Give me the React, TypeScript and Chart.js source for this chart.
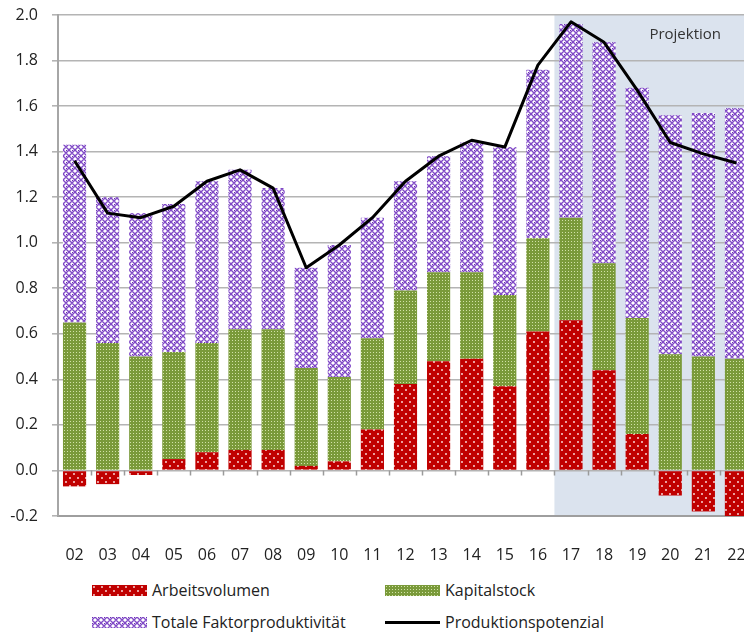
import React, { useEffect, useMemo, useRef } from 'react';
import { Chart, registerables } from 'chart.js';

Chart.register(...registerables);

const categories = ['02', '03', '04', '05', '06', '07', '08', '09', '10', '11', '12', '13', '14', '15', '16', '17', '18', '19', '20', '21', '22'];

const arbeitsvolumen = [-0.07, -0.06, -0.02, 0.05, 0.08, 0.09, 0.09, 0.02, 0.04, 0.18, 0.38, 0.48, 0.49, 0.37, 0.61, 0.66, 0.44, 0.16, -0.11, -0.18, -0.21];
const kapitalstock = [0.65, 0.56, 0.50, 0.47, 0.48, 0.53, 0.53, 0.43, 0.37, 0.40, 0.41, 0.39, 0.38, 0.40, 0.41, 0.45, 0.47, 0.51, 0.51, 0.50, 0.49];
const tfp = [0.78, 0.64, 0.63, 0.65, 0.71, 0.70, 0.62, 0.44, 0.58, 0.53, 0.48, 0.51, 0.57, 0.65, 0.74, 0.85, 0.97, 1.01, 1.05, 1.07, 1.10];
const produktionspotenzial = [1.36, 1.13, 1.11, 1.16, 1.27, 1.32, 1.24, 0.89, 0.99, 1.11, 1.27, 1.38, 1.45, 1.42, 1.78, 1.97, 1.88, 1.67, 1.44, 1.39, 1.35];

const seriesLabels = ['Arbeitsvolumen', 'Kapitalstock', 'Totale Faktorproduktivität', 'Produktionspotenzial'];
const projectionStart = '17';
const projectionLabel = 'Projektion';
const yMin = -0.2;
const yMax = 2.0;
const yStep = 0.2;

const FONT = '"Open Sans", sans-serif';
const TEXT = '#222222';
const GRID = '#b4b4b4';

function makeTile(w: number, h: number, draw: (ctx: CanvasRenderingContext2D) => void) {
  const c = document.createElement('canvas');
  c.width = w;
  c.height = h;
  const ctx = c.getContext('2d')!;
  draw(ctx);
  return c;
}

function redTile() {
  return makeTile(8, 8, (ctx) => {
    ctx.fillStyle = '#c00000';
    ctx.fillRect(0, 0, 8, 8);
    ctx.fillStyle = 'rgba(255,235,235,0.9)';
    ctx.beginPath();
    ctx.arc(2, 2, 1.0, 0, Math.PI * 2);
    ctx.arc(6, 6, 1.0, 0, Math.PI * 2);
    ctx.fill();
  });
}

function greenTile() {
  return makeTile(3, 3, (ctx) => {
    ctx.fillStyle = '#7a9a3a';
    ctx.fillRect(0, 0, 3, 3);
    ctx.fillStyle = '#d2e2a8';
    ctx.fillRect(1, 1, 1, 1);
  });
}

function purpleTile() {
  return makeTile(6, 6, (ctx) => {
    ctx.fillStyle = '#ffffff';
    ctx.fillRect(0, 0, 6, 6);
    ctx.strokeStyle = '#7f48c6';
    ctx.lineWidth = 1.4;
    ctx.beginPath();
    ctx.moveTo(0, 3);
    ctx.lineTo(3, 0);
    ctx.lineTo(6, 3);
    ctx.lineTo(3, 6);
    ctx.closePath();
    ctx.stroke();
    ctx.fillStyle = '#6a30b0';
    ctx.fillRect(0, 0, 1, 1);
  });
}

export default function App() {
  const canvasRef = useRef<HTMLCanvasElement>(null);

  const tiles = useMemo(() => {
    const r = redTile();
    const g = greenTile();
    const p = purpleTile();
    return { r, g, p, rUrl: r.toDataURL(), gUrl: g.toDataURL(), pUrl: p.toDataURL() };
  }, []);

  useEffect(() => {
    const canvas = canvasRef.current!;
    const ctx = canvas.getContext('2d')!;
    const redPattern = ctx.createPattern(tiles.r, 'repeat')!;
    const greenPattern = ctx.createPattern(tiles.g, 'repeat')!;
    const purplePattern = ctx.createPattern(tiles.p, 'repeat')!;

    const deco = {
      id: 'deco',
      beforeDraw(chart: any) {
        const { ctx: c, chartArea, scales } = chart;
        const x = scales.x;
        const i = categories.indexOf(projectionStart);
        const left = (x.getPixelForValue(i - 1) + x.getPixelForValue(i)) / 2;
        c.save();
        c.fillStyle = '#dbe3ee';
        c.fillRect(left, chartArea.top, chart.width - left, chartArea.bottom - chartArea.top);
        c.fillStyle = '#333333';
        c.font = `15px ${FONT}`;
        c.textAlign = 'right';
        c.textBaseline = 'middle';
        c.fillText(projectionLabel, chartArea.right - 32, chartArea.top + 20);
        c.restore();
      },
      beforeDatasetsDraw(chart: any) {
        const { ctx: c, scales } = chart;
        const x = scales.x;
        const y = scales.y;
        const step = x.getPixelForValue(1) - x.getPixelForValue(0);
        const y0 = y.getPixelForValue(0);
        c.save();
        c.strokeStyle = '#9a9a9a';
        c.lineWidth = 1.5;
        c.beginPath();
        for (let i = 1; i < categories.length; i++) {
          const bx = Math.round(x.getPixelForValue(i) - step / 2) + 0.5;
          c.moveTo(bx, y0);
          c.lineTo(bx, y0 + 5);
        }
        c.stroke();
        c.restore();
      },
    };

    const chart = new Chart(ctx, {
      type: 'bar',
      data: {
        labels: categories,
        datasets: [
          {
            type: 'line',
            label: seriesLabels[3],
            data: produktionspotenzial,
            borderColor: '#000000',
            borderWidth: 3,
            pointRadius: 0,
            tension: 0,
            borderJoinStyle: 'round',
            order: 0,
            stack: 'pot',
          } as any,
          {
            type: 'bar',
            label: seriesLabels[0],
            data: arbeitsvolumen,
            backgroundColor: redPattern,
            barPercentage: 0.7,
            categoryPercentage: 1,
            order: 1,
            stack: 'a',
          },
          {
            type: 'bar',
            label: seriesLabels[1],
            data: kapitalstock,
            backgroundColor: greenPattern,
            barPercentage: 0.7,
            categoryPercentage: 1,
            order: 1,
            stack: 'a',
          },
          {
            type: 'bar',
            label: seriesLabels[2],
            data: tfp,
            backgroundColor: purplePattern,
            barPercentage: 0.7,
            categoryPercentage: 1,
            order: 1,
            stack: 'a',
          },
        ],
      },
      options: {
        animation: false,
        responsive: false,
        devicePixelRatio: 1,
        layout: { padding: { top: 15, right: 0, bottom: 0, left: 0 } },
        plugins: {
          legend: { display: false },
          tooltip: { enabled: false },
        },
        scales: {
          x: {
            stacked: true,
            grid: { display: false, drawTicks: false },
            border: { display: true, color: '#9e9e9e', width: 2 },
            ticks: {
              color: TEXT,
              font: { family: FONT, size: 16 },
              padding: 30,
              autoSkip: false,
              maxRotation: 0,
            },
            afterFit: (s: any) => {
              s.height = 54;
              s.paddingLeft = 0;
              s.paddingRight = 0;
            },
          },
          y: {
            stacked: true,
            min: yMin,
            max: yMax,
            ticks: {
              stepSize: yStep,
              color: TEXT,
              font: { family: FONT, size: 16 },
              padding: 14,
              callback: (v: any) => Number(v).toFixed(1),
            },
            grid: { color: GRID, lineWidth: 1.6, tickLength: 6, drawTicks: true },
            border: { display: true, color: '#a6a6a6', width: 2 },
            afterFit: (s: any) => {
              s.width = 58;
              s.paddingTop = 0;
              s.paddingBottom = 0;
            },
          },
        },
      },
      plugins: [deco],
    });
    return () => chart.destroy();
  }, [tiles]);

  const legendItem = (left: number, top: number, swatch: React.ReactNode, label: string) => (
    <div
      style={{
        position: 'absolute',
        left,
        top,
        height: 22,
        display: 'flex',
        alignItems: 'center',
        fontFamily: FONT,
        fontSize: 16,
        color: TEXT,
        whiteSpace: 'nowrap',
      }}
    >
      {swatch}
      <span style={{ marginLeft: 5 }}>{label}</span>
    </div>
  );

  const patternSwatch = (url: string) => (
    <div style={{ width: 55, height: 11, backgroundImage: `url(${url})`, backgroundRepeat: 'repeat' }} />
  );
  const lineSwatch = (
    <div style={{ width: 55, height: 11, display: 'flex', alignItems: 'center' }}>
      <div style={{ width: 55, height: 3, background: '#000' }} />
    </div>
  );

  return (
    <div
      style={{
        position: 'absolute',
        left: 0,
        top: 0,
        width: 744,
        height: 633,
        overflow: 'hidden',
        background: '#ffffff',
      }}
    >
      <canvas ref={canvasRef} width={753} height={570} style={{ position: 'absolute', left: 0, top: 0 }} />
      {legendItem(92, 579, patternSwatch(tiles.rUrl), seriesLabels[0])}
      {legendItem(385, 579, patternSwatch(tiles.gUrl), seriesLabels[1])}
      {legendItem(92, 611, patternSwatch(tiles.pUrl), seriesLabels[2])}
      {legendItem(385, 611, lineSwatch, seriesLabels[3])}
    </div>
  );
}
